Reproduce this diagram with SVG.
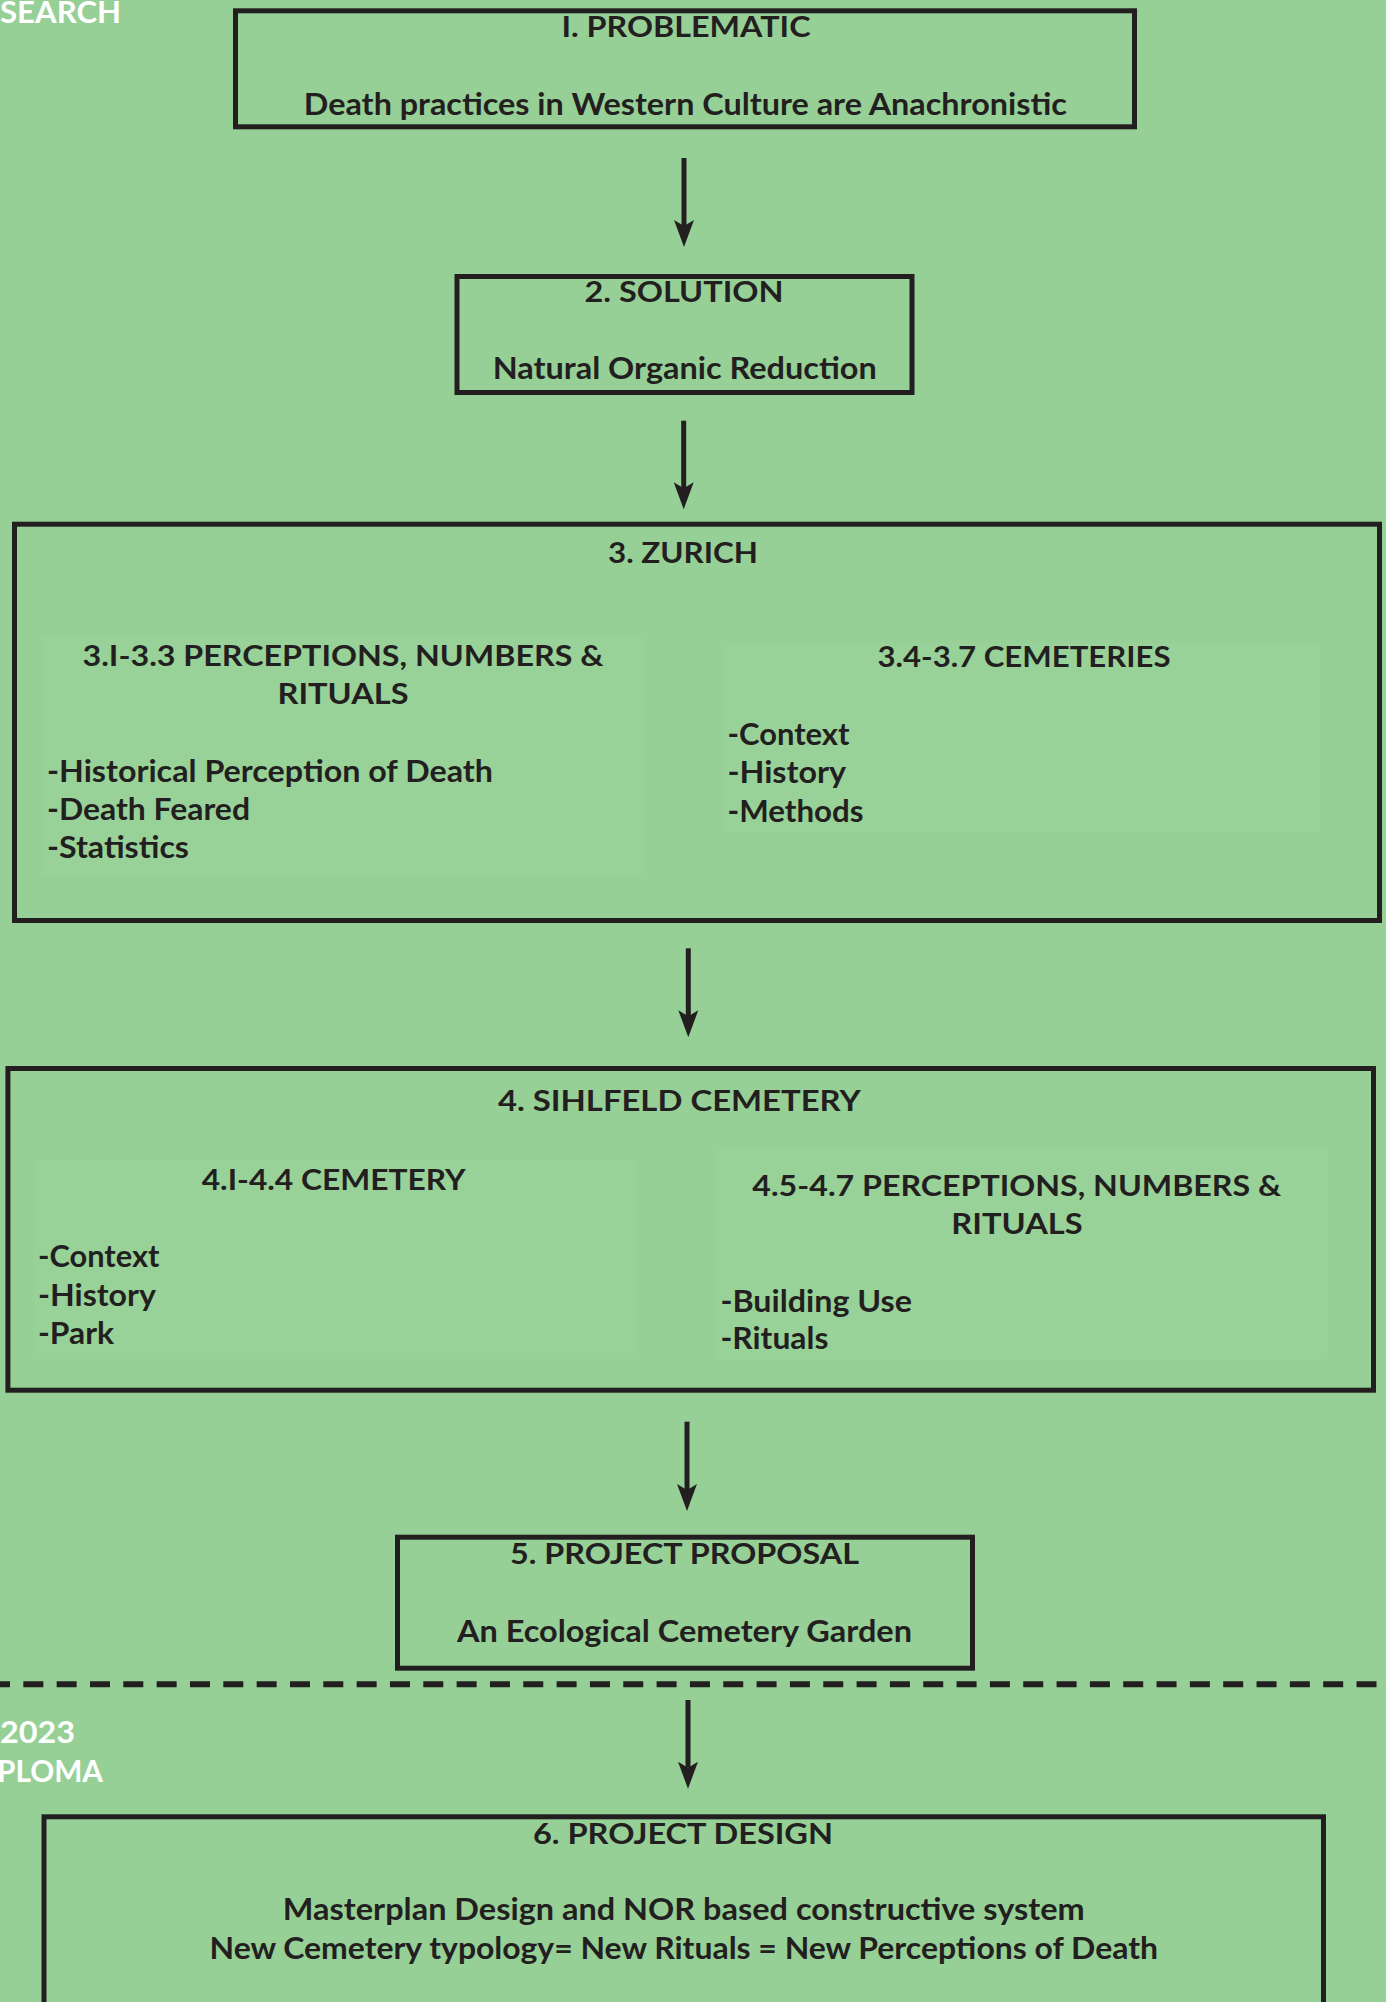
<svg xmlns="http://www.w3.org/2000/svg" width="1386" height="2002" viewBox="0 0 1386 2002">
<defs>
<style>
.bg{fill:#96d096}
.box{fill:none;stroke:#231f20;stroke-width:5}
.sub{fill:#98d298;stroke:none}
.t{font-family:Lato,"Liberation Sans",sans-serif;font-weight:700;fill:#231f20}
.h{font-size:28.5px}
.b{font-size:31px}
.c{text-anchor:middle}
.w{font-family:Lato,"Liberation Sans",sans-serif;font-weight:700;fill:#ffffff;font-size:31px}
.arr{stroke:#231f20;stroke-width:5;fill:none;marker-end:url(#head)}
</style>
<marker id="head" markerUnits="userSpaceOnUse" markerWidth="28" markerHeight="22" viewBox="0 0 28 22" refX="6" refY="11" orient="auto">
<path d="M0,1 L27,11 L0,21 L6,11 Z" fill="#231f20"/>
</marker>
</defs>
<rect class="bg" x="0" y="0" width="1386" height="2002"/>

<g id="side-labels">
<text class="w" x="0" y="23" textLength="121" lengthAdjust="spacingAndGlyphs">SEARCH</text>
<text class="w" x="0" y="1743" textLength="75" lengthAdjust="spacingAndGlyphs">2023</text>
<text class="w" x="-3" y="1782" textLength="106" lengthAdjust="spacingAndGlyphs">PLOMA</text>
</g>

<g id="node-1">
<rect class="box" x="235.5" y="10.8" width="899" height="116"/>
<text class="t h c" x="686" y="37" textLength="249" lengthAdjust="spacingAndGlyphs">I. PROBLEMATIC</text>
<text class="t b c" x="685.3" y="115" textLength="763" lengthAdjust="spacingAndGlyphs">Death practices in Western Culture are Anachronistic</text>
</g>

<g id="node-2">
<rect class="box" x="457" y="276.5" width="455" height="116"/>
<text class="t h c" x="684" y="302" textLength="199" lengthAdjust="spacingAndGlyphs">2. SOLUTION</text>
<text class="t b c" x="684.7" y="379" textLength="384" lengthAdjust="spacingAndGlyphs">Natural Organic Reduction</text>
</g>

<g id="node-3">
<rect class="box" x="14.5" y="524.2" width="1365" height="396.3"/>
<text class="t h c" x="683" y="563" textLength="150" lengthAdjust="spacingAndGlyphs">3. ZURICH</text>
<g id="node-3-1">
<rect class="sub" x="42" y="635" width="601" height="240"/>
<text class="t h c" x="343" y="666" textLength="521" lengthAdjust="spacingAndGlyphs">3.I-3.3 PERCEPTIONS, NUMBERS &amp;</text>
<text class="t h c" x="343" y="704" textLength="131" lengthAdjust="spacingAndGlyphs">RITUALS</text>
<text class="t b" x="47" y="782" textLength="446" lengthAdjust="spacingAndGlyphs">-Historical Perception of Death</text>
<text class="t b" x="47" y="820" textLength="203" lengthAdjust="spacingAndGlyphs">-Death Feared</text>
<text class="t b" x="47" y="858" textLength="142" lengthAdjust="spacingAndGlyphs">-Statistics</text>
</g>
<g id="node-3-2">
<rect class="sub" x="725" y="643" width="594" height="189"/>
<text class="t h c" x="1024" y="667" textLength="293" lengthAdjust="spacingAndGlyphs">3.4-3.7 CEMETERIES</text>
<text class="t b" x="727.5" y="745" textLength="122" lengthAdjust="spacingAndGlyphs">-Context</text>
<text class="t b" x="727.5" y="783" textLength="118.5" lengthAdjust="spacingAndGlyphs">-History</text>
<text class="t b" x="727.5" y="822" textLength="136" lengthAdjust="spacingAndGlyphs">-Methods</text>
</g>
</g>

<g id="node-4">
<rect class="box" x="7.9" y="1068.5" width="1365.6" height="321.7"/>
<text class="t h c" x="679.4" y="1111" textLength="363" lengthAdjust="spacingAndGlyphs">4. SIHLFELD CEMETERY</text>
<g id="node-4-1">
<rect class="sub" x="34" y="1161" width="604" height="192"/>
<text class="t h c" x="333.7" y="1190" textLength="264" lengthAdjust="spacingAndGlyphs">4.I-4.4 CEMETERY</text>
<text class="t b" x="38" y="1267" textLength="121.4" lengthAdjust="spacingAndGlyphs">-Context</text>
<text class="t b" x="38" y="1306" textLength="118" lengthAdjust="spacingAndGlyphs">-History</text>
<text class="t b" x="38" y="1344" textLength="76" lengthAdjust="spacingAndGlyphs">-Park</text>
</g>
<g id="node-4-2">
<rect class="sub" x="716" y="1149" width="611" height="210"/>
<text class="t h c" x="1016.8" y="1196" textLength="529" lengthAdjust="spacingAndGlyphs">4.5-4.7 PERCEPTIONS, NUMBERS &amp;</text>
<text class="t h c" x="1017" y="1234" textLength="131.4" lengthAdjust="spacingAndGlyphs">RITUALS</text>
<text class="t b" x="720.4" y="1312" textLength="191.6" lengthAdjust="spacingAndGlyphs">-Building Use</text>
<text class="t b" x="720.4" y="1349" textLength="108" lengthAdjust="spacingAndGlyphs">-Rituals</text>
</g>
</g>

<g id="node-5">
<rect class="box" x="397.5" y="1537.2" width="575" height="131"/>
<text class="t h c" x="684.5" y="1564" textLength="349" lengthAdjust="spacingAndGlyphs">5. PROJECT PROPOSAL</text>
<text class="t b c" x="684.5" y="1642" textLength="455" lengthAdjust="spacingAndGlyphs">An Ecological Cemetery Garden</text>
</g>

<g id="divider">
<line x1="0" y1="1684.3" x2="1386" y2="1684.3" stroke="#231f20" stroke-width="6" stroke-dasharray="20 13.33" stroke-dashoffset="10"/>
</g>

<g id="node-6">
<rect class="box" x="44" y="1816.8" width="1279.5" height="300"/>
<text class="t h c" x="683" y="1844" textLength="300" lengthAdjust="spacingAndGlyphs">6. PROJECT DESIGN</text>
<text class="t b c" x="683.8" y="1920" textLength="802" lengthAdjust="spacingAndGlyphs">Masterplan Design and NOR based constructive system</text>
<text class="t b c" x="683.8" y="1959" textLength="948.5" lengthAdjust="spacingAndGlyphs">New Cemetery typology= New Rituals = New Perceptions of Death</text>
</g>

<g id="connectors">
<line class="arr" x1="684" y1="158" x2="684" y2="226"/>
<line class="arr" x1="683.7" y1="420.7" x2="683.7" y2="488.3"/>
<line class="arr" x1="688.3" y1="948.3" x2="688.3" y2="1016.3"/>
<line class="arr" x1="687" y1="1421.7" x2="687" y2="1490"/>
<line class="arr" x1="688" y1="1700" x2="688" y2="1767.7"/>
</g>
</svg>
